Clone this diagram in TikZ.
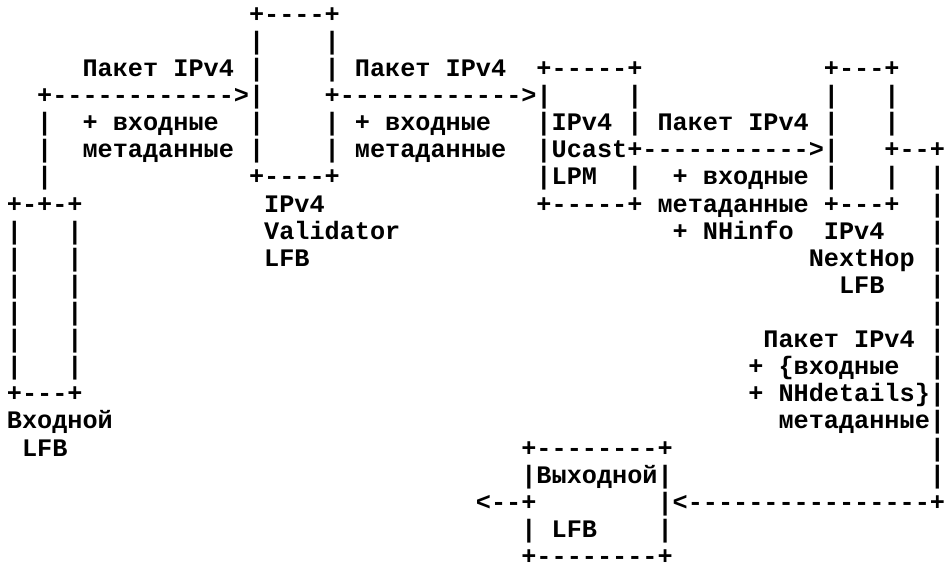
\documentclass[tikz,border=0pt]{standalone}
\usepackage{fontspec}
\setmonofont{Liberation Mono}
\tikzset{asc/.style={anchor=base west, inner sep=0pt, outer sep=0pt,
  font=\ttfamily\bfseries\fontsize{25.22pt}{27pt}\selectfont}}
% #1 = row, #2 = column, #3 = text
\newcommand\seg[3]{\node[asc] (r#1c#2) at ({6.935+15.13*#2},{22.4+27.1*(#1-1)}) {#3};}
\begin{document}
\begin{tikzpicture}[x=1pt,y=-1pt]
\useasboundingbox[fill=white] (0,0) rectangle (946,567);
\seg{1}{16}{+----+}
\seg{2}{16}{|}\seg{2}{21}{|}
\seg{3}{5}{Пакет IPv4}\seg{3}{16}{|}\seg{3}{21}{|}\seg{3}{23}{Пакет IPv4}\seg{3}{35}{+-----+}\seg{3}{54}{+---+}
\seg{4}{2}{+------------>|}\seg{4}{21}{+------------>|}\seg{4}{41}{|}\seg{4}{54}{|}\seg{4}{58}{|}
\seg{5}{2}{|}\seg{5}{5}{+ входные}\seg{5}{16}{|}\seg{5}{21}{|}\seg{5}{23}{+ входные}\seg{5}{35}{|IPv4}\seg{5}{41}{|}\seg{5}{43}{Пакет IPv4}\seg{5}{54}{|}\seg{5}{58}{|}
\seg{6}{2}{|}\seg{6}{5}{метаданные}\seg{6}{16}{|}\seg{6}{21}{|}\seg{6}{23}{метаданные}\seg{6}{35}{|Ucast+----------->|}\seg{6}{58}{+--+}
\seg{7}{2}{|}\seg{7}{16}{+----+}\seg{7}{35}{|LPM}\seg{7}{41}{|}\seg{7}{44}{+ входные}\seg{7}{54}{|}\seg{7}{58}{|}\seg{7}{61}{|}
\seg{8}{0}{+-+-+}\seg{8}{17}{IPv4}\seg{8}{35}{+-----+}\seg{8}{43}{метаданные}\seg{8}{54}{+---+}\seg{8}{61}{|}
\seg{9}{0}{|}\seg{9}{4}{|}\seg{9}{17}{Validator}\seg{9}{44}{+ NHinfo}\seg{9}{54}{IPv4}\seg{9}{61}{|}
\seg{10}{0}{|}\seg{10}{4}{|}\seg{10}{17}{LFB}\seg{10}{53}{NextHop}\seg{10}{61}{|}
\seg{11}{0}{|}\seg{11}{4}{|}\seg{11}{55}{LFB}\seg{11}{61}{|}
\seg{12}{0}{|}\seg{12}{4}{|}\seg{12}{61}{|}
\seg{13}{0}{|}\seg{13}{4}{|}\seg{13}{50}{Пакет IPv4}\seg{13}{61}{|}
\seg{14}{0}{|}\seg{14}{4}{|}\seg{14}{49}{+ \{входные}\seg{14}{61}{|}
\seg{15}{0}{+---+}\seg{15}{49}{+ NHdetails\}|}
\seg{16}{0}{Входной}\seg{16}{51}{метаданные|}
\seg{17}{1}{LFB}\seg{17}{34}{+--------+}\seg{17}{61}{|}
\seg{18}{34}{|Выходной|}\seg{18}{61}{|}
\seg{19}{31}{<--+}\seg{19}{43}{|<----------------+}
\seg{20}{34}{|}\seg{20}{36}{LFB}\seg{20}{43}{|}
\seg{21}{34}{+--------+}
\end{tikzpicture}
\end{document}
